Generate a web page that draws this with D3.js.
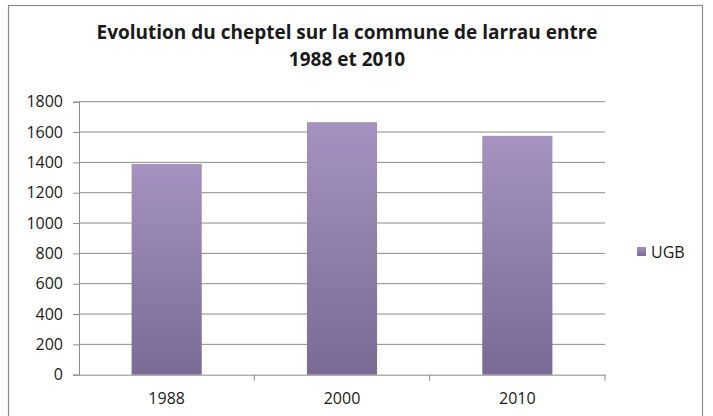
<!DOCTYPE html>
<html>
<head>
<meta charset="utf-8">
<script src="https://cdn.jsdelivr.net/npm/d3@7"></script>
<style>
  html, body { margin: 0; padding: 0; background: #fff; }
  svg { display: block; }
  text { font-family: "Open Sans", "Noto Sans", sans-serif; fill: #1a1a1a; }
</style>
</head>
<body>
<svg id="chart" width="713" height="416"></svg>
<script>
// Livestock units (UGB) per census year
const years = ["1988", "2000", "2010"];
const ugb = [1390, 1665, 1575];
const yTicks = [0, 200, 400, 600, 800, 1000, 1200, 1400, 1600, 1800];
const titleLines = ["Evolution du cheptel sur la commune de larrau entre", "1988 et 2010"];
const seriesName = "UGB";

const svg = d3.select("#chart");
const plot = { left: 79, right: 605, top: 101.7, bottom: 374.7 };

// outer frame
svg.append("rect")
  .attr("x", 8.5).attr("y", 5.5)
  .attr("width", 694).attr("height", 420)
  .attr("fill", "#fff").attr("stroke", "#8a8a8a").attr("stroke-width", 1.2);

// bar gradient
const defs = svg.append("defs");
const grad = defs.append("linearGradient")
  .attr("id", "barGrad").attr("x1", 0).attr("y1", 0).attr("x2", 0).attr("y2", 1);
grad.append("stop").attr("offset", "0%").attr("stop-color", "#a592c0");
grad.append("stop").attr("offset", "100%").attr("stop-color", "#7b6a95");

const x = d3.scaleBand().domain(years).range([plot.left, plot.right]).paddingInner(0).paddingOuter(0);
const y = d3.scaleLinear().domain([0, 1800]).range([plot.bottom, plot.top]);

// horizontal gridlines
svg.append("g")
  .selectAll("line")
  .data(yTicks.filter(d => d > 0))
  .join("line")
  .attr("x1", plot.left).attr("x2", plot.right)
  .attr("y1", d => y(d)).attr("y2", d => y(d))
  .attr("stroke", "#8c8c8c").attr("stroke-width", 1);

// y axis
const yAxis = svg.append("g")
  .attr("transform", `translate(${plot.left},0)`)
  .call(d3.axisLeft(y).tickValues(yTicks).tickSize(6).tickPadding(10).tickFormat(d3.format("d")));
yAxis.select(".domain").attr("stroke", "#8c8c8c");
yAxis.selectAll(".tick line").attr("stroke", "#8c8c8c");
yAxis.selectAll(".tick text").attr("font-size", 16).attr("fill", "#1a1a1a")
  .attr("font-family", "'Open Sans', sans-serif");

// bars
const barW = x.bandwidth() * 0.4;
svg.append("g")
  .selectAll("rect")
  .data(years.map((yr, i) => ({ yr, v: ugb[i] })))
  .join("rect")
  .attr("x", d => x(d.yr) + (x.bandwidth() - barW) / 2)
  .attr("width", barW)
  .attr("y", d => y(d.v))
  .attr("height", d => y(0) - y(d.v))
  .attr("fill", "url(#barGrad)");

// x axis
const xAxis = svg.append("g")
  .attr("transform", `translate(0,${plot.bottom})`)
  .call(d3.axisBottom(x).tickSize(0).tickPadding(18));
xAxis.select(".domain").attr("stroke", "#8c8c8c");
xAxis.selectAll(".tick text").attr("font-size", 16).attr("fill", "#1a1a1a")
  .attr("font-family", "'Open Sans', sans-serif");
// category separators
svg.append("g")
  .selectAll("line")
  .data(years.slice(1).concat(["end"]))
  .join("line")
  .attr("x1", (d, i) => i < years.length - 1 ? x(d) : plot.right)
  .attr("x2", (d, i) => i < years.length - 1 ? x(d) : plot.right)
  .attr("y1", plot.bottom).attr("y2", plot.bottom + 6)
  .attr("stroke", "#8c8c8c");

// title
svg.append("g")
  .selectAll("text")
  .data(titleLines)
  .join("text")
  .attr("x", 347)
  .attr("y", (d, i) => 39 + i * 27)
  .attr("text-anchor", "middle")
  .attr("font-size", 19)
  .attr("font-weight", "bold")
  .attr("fill", "#111")
  .text(d => d);

// legend
svg.append("rect")
  .attr("x", 637).attr("y", 247)
  .attr("width", 9).attr("height", 9)
  .attr("fill", "url(#barGrad)");
svg.append("text")
  .attr("x", 651).attr("y", 258)
  .attr("font-size", 16)
  .attr("fill", "#1a1a1a")
  .text(seriesName);
</script>
</body>
</html>
